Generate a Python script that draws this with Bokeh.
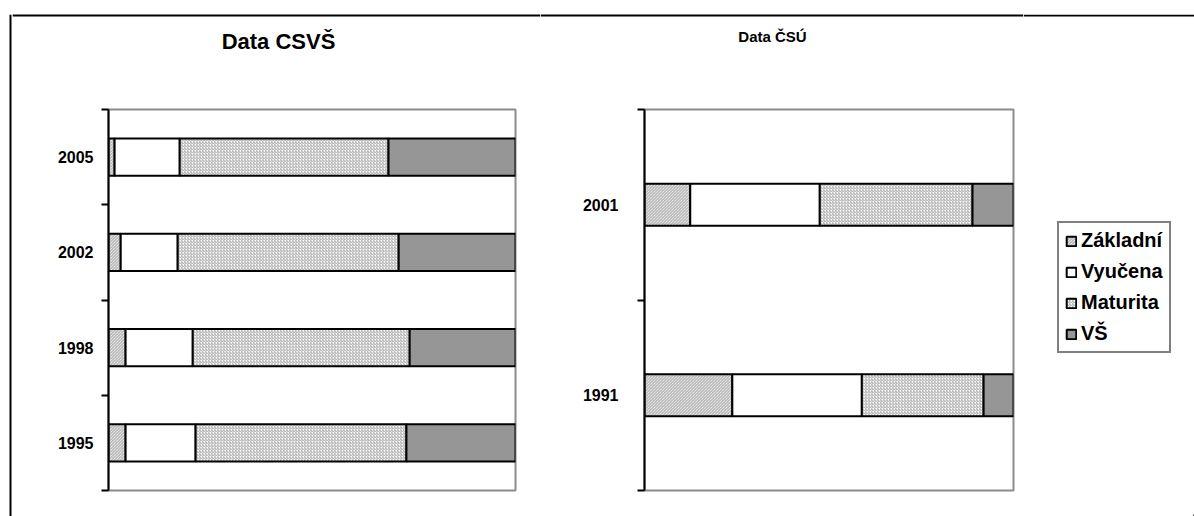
from bokeh.plotting import figure
from bokeh.layouts import row, column
from bokeh.models import (FixedTicker, Legend, LegendItem, ColumnDataSource,
                          Range1d, Label, Span)
from bokeh.embed import file_html
from bokeh.resources import INLINE

levels = ["Základní", "Vyučena", "Maturita", "VŠ"]

years_csvs = ["1995", "1998", "2002", "2005"]
zakladni_csvs = [4.2, 4.2, 3.0, 1.5]
vyucena_csvs = [17.2, 16.5, 14.0, 16.0]
maturita_csvs = [51.8, 53.3, 54.3, 51.3]
vs_csvs = [26.8, 26.0, 28.7, 31.2]

years_csu = ["1991", "2001"]
zakladni_csu = [23.8, 12.4]
vyucena_csu = [35.1, 35.1]
maturita_csu = [33.0, 41.4]
vs_csu = [8.1, 11.1]

titles = ["Data CSVŠ", "Data ČSÚ"]

FILLS = ["white", "white", "white", "#969696"]
HATCH = ["\\", " ", "/", " "]
FONT = "Liberation Sans"
BAR_STYLE = dict(fill_color=FILLS, line_color="black", line_width=2,
                 hatch_pattern=HATCH, hatch_color="#a8a8a8", hatch_scale=3,
                 hatch_weight=1)
HEAD_H = 96
CHART_H = 420
TOTAL_H = HEAD_H + CHART_H
TOP_GAP = 14
STRIP_W = 12
LEG_W = 171


def blank(p):
    p.axis.visible = False
    p.grid.visible = False
    p.outline_line_color = None
    p.background_fill_color = "white"
    p.border_fill_color = "white"
    p.title.visible = False


def make_header(text, width, size, cx, cy):
    h = figure(width=width, height=HEAD_H, output_backend="svg",
               toolbar_location=None, x_range=Range1d(0, width),
               y_range=Range1d(0, HEAD_H), min_border=0)
    blank(h)
    # outer chart-area frame, top edge
    h.add_layout(Span(location=HEAD_H - 15, dimension="width",
                      line_color="black", line_width=2))
    h.add_layout(Label(x=cx, y=HEAD_H - cy, text=text, text_font=FONT,
                       text_font_style="bold", text_font_size=size,
                       text_color="black", text_align="center",
                       text_baseline="middle"))
    return h


def make_chart(years, cols, width, mb_left, mb_right, bar_h, standoff):
    n = len(years)
    src = ColumnDataSource(dict(
        y=[i + 0.5 for i in range(n)],
        **{lvl: vals for lvl, vals in zip(levels, cols)}))
    p = figure(width=width, height=CHART_H, output_backend="svg",
               toolbar_location=None, x_range=Range1d(0, 100),
               y_range=Range1d(0, n), min_border_left=mb_left,
               min_border_right=mb_right, min_border_top=13,
               min_border_bottom=26)
    renderers = p.hbar_stack(levels, y="y", height=bar_h, source=src,
                             **BAR_STYLE)
    p.title.visible = False
    p.xaxis.visible = False
    p.xgrid.visible = False
    p.ygrid.visible = False
    p.outline_line_color = "#8c8c8c"
    p.outline_line_width = 2
    p.background_fill_color = "white"
    p.border_fill_color = "white"
    ax = p.yaxis[0]
    ax.ticker = FixedTicker(ticks=[i + 0.5 for i in range(n)],
                            minor_ticks=list(range(n + 1)))
    ax.major_label_overrides = {i + 0.5: y for i, y in enumerate(years)}
    ax.major_tick_out = 0
    ax.major_tick_in = 0
    ax.minor_tick_out = 7
    ax.minor_tick_in = 0
    ax.minor_tick_line_color = "black"
    ax.minor_tick_line_width = 2
    ax.axis_line_color = "black"
    ax.axis_line_width = 2
    ax.major_label_text_font = FONT
    ax.major_label_text_font_style = "bold"
    ax.major_label_text_font_size = "16px"
    ax.major_label_text_color = "black"
    ax.major_label_standoff = standoff
    return p, renderers, src


p1, r1, s1 = make_chart(years_csvs,
                        [zakladni_csvs, vyucena_csvs, maturita_csvs, vs_csvs],
                        528, 96, 25, 0.39, 8)
p2, r2, s2 = make_chart(years_csu,
                        [zakladni_csu, vyucena_csu, maturita_csu, vs_csu],
                        483, 104, 10, 0.22, 19)

h1 = make_header(titles[0], 528, "22px", 266, 41)
h2 = make_header(titles[1], 483, "15px", 232, 36)

# legend column: same data drawn out of view, used only for the swatches
FRAME3_H = TOTAL_H - TOP_GAP
p3 = figure(width=LEG_W, height=TOTAL_H, output_backend="svg",
            toolbar_location=None, x_range=Range1d(-300, -200),
            y_range=Range1d(0, FRAME3_H), min_border=0,
            min_border_top=TOP_GAP)
r3 = p3.hbar_stack(levels, y="y", height=0.22, source=s2, **BAR_STYLE)
blank(p3)
p3.add_layout(Span(location=FRAME3_H - 1, dimension="width",
                   line_color="black", line_width=2))

legend = Legend(items=[LegendItem(label=lvl, renderers=[r])
                       for lvl, r in zip(levels, r3)],
                location=(34, 163))
legend.label_text_font = FONT
legend.label_text_font_style = "bold"
legend.label_text_font_size = "20px"
legend.label_text_color = "black"
legend.glyph_width = 12
legend.glyph_height = 12
legend.label_standoff = 4
legend.label_height = 23
legend.spacing = 8
legend.padding = 6
legend.margin = 0
legend.border_line_color = "black"
legend.border_line_width = 2
legend.background_fill_color = "white"
legend.background_fill_alpha = 1
p3.add_layout(legend, "center")

# left strip carrying the outer frame's left edge
strip = figure(width=STRIP_W, height=TOTAL_H, output_backend="svg",
               toolbar_location=None, x_range=Range1d(0, STRIP_W),
               y_range=Range1d(0, 1), min_border=0, min_border_top=TOP_GAP)
blank(strip)
strip.add_layout(Span(location=10, dimension="height", line_color="black",
                      line_width=2))

layout = row(strip, column(row(h1, h2), row(p1, p2)), p3)

open("out.html", "w").write(file_html(layout, INLINE))
